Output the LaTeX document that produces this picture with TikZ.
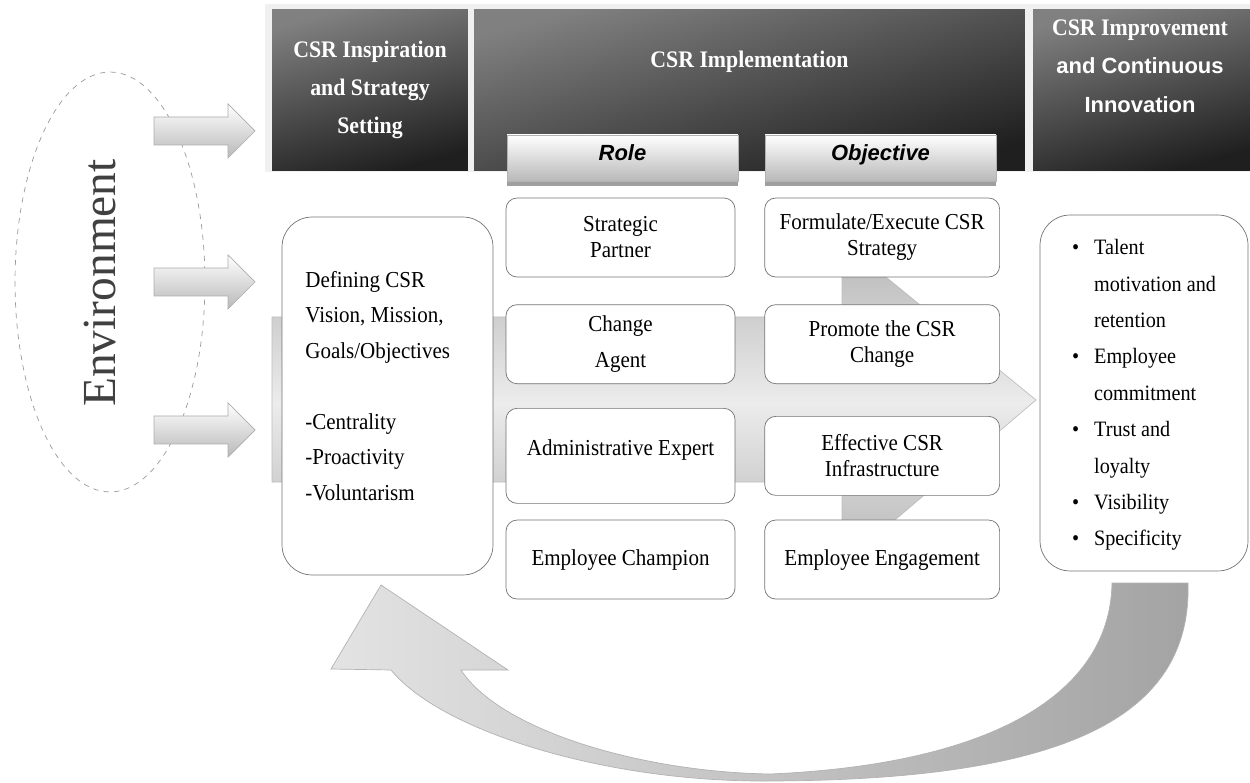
\documentclass[tikz,border=0pt]{standalone}
\usepackage{fontspec}
\setmainfont{Liberation Serif}[FakeStretch=0.92]
\setsansfont{Liberation Sans}
\newfontfamily\envfont{Liberation Serif}
\usetikzlibrary{positioning,shadows}

\begin{document}
\begin{tikzpicture}[x=0.02cm, y=-0.02cm, node distance=0.5cm,
    headbox/.style={rectangle, draw=none, top color=black!50, bottom color=black!88,
        shading angle=15, minimum height=3.24cm, inner sep=0pt},
    headtext/.style={text=white, font=\fontsize{13.5}{21.8}\selectfont\bfseries, align=center},
    colhead/.style={rectangle, draw=gray!60, top color=white, bottom color=gray!55,
        minimum width=4.62cm, minimum height=0.92cm, text height=9pt, text depth=5.6pt,
        font=\sffamily\bfseries\itshape\fontsize{12.5}{14}\selectfont,
        drop shadow={shadow xshift=0pt, shadow yshift=-0.1cm, fill=gray!75, opacity=1}},
    cellbox/.style={rectangle, draw=black!55, fill=white, rounded corners=0.22cm,
        align=center, minimum height=1.58cm, font=\fontsize{13}{14.8}\selectfont},
    bigbox/.style={rectangle, draw=black!55, fill=white, rounded corners=0.6cm},
    envarrow/.style={draw=gray!65, top color=white, bottom color=gray!55}]
    \useasboundingbox (0,0) rectangle (1250,783);

    % header band
    \fill[gray!12] (265,4) rectangle (1250,172);
    \node[headbox, minimum width=3.92cm, headtext] (inspire) at (370,90) {CSR Inspiration\\and Strategy\\Setting};
    \node[headbox, minimum width=11.02cm] (impl) at (749.5,90) {};
    \node[headtext] (impltxt) at (749.5,62) {CSR Implementation};
    \node[headbox, minimum width=4.34cm] (improve) at (1141.5,90) {};
    \node[headtext] (improvetxt) at (1140,66) {CSR Improvement\\{\sffamily\fontsize{12.5}{21.8}\selectfont and Continuous}\\{\sffamily\fontsize{12.5}{21.8}\selectfont Innovation}};

    % big arrow behind the boxes
    \shade[top color=gray!58, bottom color=gray!58, middle color=gray!15, draw=gray!50]
        (272,317) -- (842,317) -- (842,241) -- (1036,400) -- (842,565) -- (842,482) -- (272,482) -- cycle;

    % return arrow
    \shade[left color=gray!22, right color=gray!72, draw=gray!60]
        (1188,583) .. controls (1192,720) and (1060,781) .. (763,781)
        .. controls (600,781) and (440,730) .. (391,670) -- (331,669) -- (381,585) -- (508,670) -- (461,670)
        .. controls (500,730) and (640,772) .. (770,774)
        .. controls (980,765) and (1110,700) .. (1112,583) -- cycle;

    % environment
    \draw[dashed, gray!80] (110,282) ellipse [x radius=1.9cm, y radius=4.2cm];
    \node[rotate=90, text=black!75, font=\envfont\fontsize{27}{27}\selectfont] (env) at (100,283) {Environment};
    \foreach \yc in {131,282,430}
        \shade[envarrow] (154,\yc-14) -- (228,\yc-14) -- (228,\yc-27) -- (255,\yc)
            -- (228,\yc+27) -- (228,\yc+14) -- (154,\yc+14) -- cycle;

    % column heads
    \node[colhead] (role) at (622.5,158) {Role};
    \node[colhead] (objective) at (880.5,158) {Objective};

    % roles
    \node[cellbox, minimum width=4.58cm] (strategic) at (620.5,237.5) {Strategic\\Partner};
    \node[cellbox, minimum width=4.58cm, font=\fontsize{13}{20.5}\selectfont, below=0.54cm of strategic] (change) {Change\\Agent};
    \node[cellbox, minimum width=4.58cm, minimum height=1.9cm, text depth=9pt, below=0.48cm of change] (admin) {Administrative Expert};
    \node[cellbox, minimum width=4.58cm, below=0.32cm of admin] (champion) {Employee Champion};

    % objectives
    \node[cellbox, minimum width=4.7cm, right=0.58cm of strategic] (formulate) {Formulate/Execute CSR\\Strategy};
    \node[cellbox, minimum width=4.7cm, right=0.58cm of change] (promote) {Promote the CSR\\Change};
    \node[cellbox, minimum width=4.7cm, right=0.58cm of admin] (effective) {Effective CSR\\Infrastructure};
    \node[cellbox, minimum width=4.7cm, right=0.58cm of champion] (engage) {Employee Engagement};

    % strategy setting
    \node[bigbox, minimum width=4.22cm, minimum height=7.16cm] (vision) at (387.5,396) {};
    \node[anchor=north west, inner sep=0pt, align=left, font=\fontsize{13}{20.2}\selectfont] (visiontxt) at (305,271)
        {Defining CSR\\Vision, Mission,\\Goals/Objectives\\[20.2pt]-Centrality\\-Proactivity\\-Voluntarism};

    % outcomes
    \node[bigbox, minimum width=4.16cm, minimum height=7.12cm, font=\fontsize{12.5}{13.8}\selectfont] (outcomes) at (1144,393)
        {\renewcommand\arraystretch{1.5}\begin{tabular}{@{}l@{\hspace{0.3cm}}l@{}}
        \textbullet & Talent\\
                    & motivation and\\
                    & retention\\
        \textbullet & Employee\\
                    & commitment\\
        \textbullet & Trust and\\
                    & loyalty\\
        \textbullet & Visibility\\
        \textbullet & Specificity
        \end{tabular}};
\end{tikzpicture}
\end{document}
